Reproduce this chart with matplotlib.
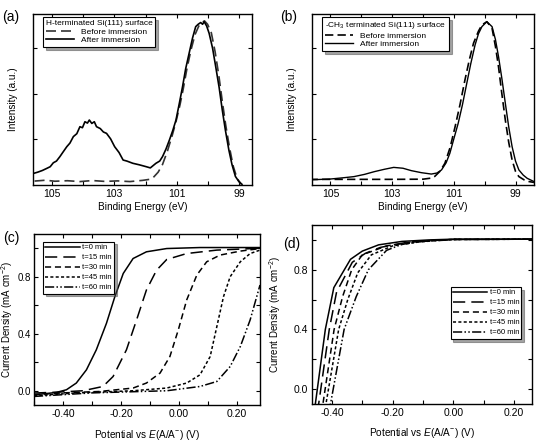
import matplotlib
matplotlib.use("Agg")
import matplotlib.pyplot as plt
from matplotlib.ticker import MultipleLocator, FixedLocator
import numpy as np

plt.rcParams['font.family'] = ['Liberation Sans', 'DejaVu Sans']
plt.rcParams['mathtext.fontset'] = 'custom'
plt.rcParams['mathtext.rm'] = 'Liberation Sans'
plt.rcParams['mathtext.it'] = 'Liberation Sans:italic'

# ---------------- Panel (a): H-terminated Si(111) XPS ----------------
a_after_E = [105.58, 105.45, 105.3, 105.15, 105.05, 104.95, 104.85, 104.74, 104.65, 104.52,
             104.42, 104.31, 104.2, 104.1, 104.02, 103.94, 103.86, 103.8, 103.72, 103.64,
             103.57, 103.45, 103.35, 103.25, 103.12, 102.99, 102.85, 102.72, 102.6, 102.41,
             102.2, 101.98, 101.85, 101.75, 101.67, 101.55, 101.46, 101.35, 101.24, 101.13,
             101.03, 100.92, 100.82, 100.72, 100.61, 100.5, 100.4, 100.32, 100.24, 100.18,
             100.13, 100.05, 99.97, 99.86, 99.76, 99.65, 99.55, 99.45, 99.34, 99.24,
             99.13, 99.02, 98.92]
a_after_I = [0.068, 0.075, 0.085, 0.098, 0.107, 0.13, 0.14, 0.166, 0.19, 0.224,
             0.245, 0.283, 0.30, 0.341, 0.335, 0.37, 0.362, 0.38, 0.36, 0.37,
             0.341, 0.33, 0.31, 0.302, 0.27, 0.224, 0.19, 0.146, 0.14, 0.127,
             0.118, 0.107, 0.10, 0.115, 0.127, 0.14, 0.166, 0.21, 0.263, 0.32,
             0.38, 0.48, 0.575, 0.68, 0.77, 0.86, 0.926, 0.94, 0.95, 0.94,
             0.955, 0.93, 0.887, 0.80, 0.692, 0.57, 0.439, 0.32, 0.205, 0.12,
             0.05, 0.02, 0.004]
a_before_E = [105.55, 105.2, 104.9, 104.5, 104.1, 103.7, 103.3, 102.9, 102.5, 102.1,
              101.8, 101.6, 101.46, 101.3, 101.15, 101.03, 100.9, 100.8, 100.68, 100.55,
              100.42, 100.3, 100.2, 100.12, 100.02, 99.9, 99.78, 99.66, 99.55, 99.44,
              99.32, 99.2, 99.08, 98.95]
a_before_I = [0.023, 0.028, 0.022, 0.025, 0.02, 0.026, 0.021, 0.024, 0.02, 0.027,
              0.035, 0.075, 0.12, 0.2, 0.29, 0.37, 0.47, 0.56, 0.68, 0.79,
              0.88, 0.93, 0.95, 0.96, 0.94, 0.89, 0.78, 0.64, 0.49, 0.35,
              0.22, 0.11, 0.04, 0.005]

# ---------------- Panel (b): CH3-terminated Si(111) XPS ----------------
b_after_E = [105.68, 105.0, 104.6, 104.24, 103.9, 103.58, 103.25, 102.95, 102.65, 102.38,
             102.05, 101.73, 101.55, 101.4, 101.25, 101.13, 101.0, 100.86, 100.72, 100.58,
             100.45, 100.31, 100.2, 100.09, 99.93, 99.76, 99.65, 99.55, 99.44, 99.33,
             99.22, 99.11, 99.0, 98.89, 98.75, 98.62, 98.4]
b_after_I = [0.03, 0.035, 0.042, 0.049, 0.062, 0.078, 0.092, 0.103, 0.098, 0.084,
             0.072, 0.064, 0.07, 0.088, 0.13, 0.185, 0.27, 0.36, 0.47, 0.595,
             0.71, 0.82, 0.885, 0.926, 0.955, 0.926, 0.85, 0.75, 0.62, 0.478,
             0.34, 0.224, 0.14, 0.088, 0.058, 0.039, 0.02]
b_before_E = [105.68, 105.0, 104.0, 103.0, 102.0, 101.75, 101.62, 101.45, 101.29, 101.12,
              100.96, 100.8, 100.64, 100.5, 100.36, 100.2, 100.09, 99.93, 99.76, 99.65,
              99.55, 99.44, 99.33, 99.22, 99.11, 99.0, 98.89, 98.72, 98.56, 98.4]
b_before_I = [0.033, 0.033, 0.033, 0.033, 0.034, 0.04, 0.05, 0.08, 0.127, 0.22,
              0.34, 0.47, 0.614, 0.73, 0.83, 0.9, 0.936, 0.955, 0.916, 0.81,
              0.69, 0.53, 0.38, 0.25, 0.146, 0.08, 0.049, 0.03, 0.02, 0.015]

# ---------------- Panel (c): J-E curves, H-terminated ----------------
c_labels = ["t=0 min", "t=15 min", "t=30 min", "t=45 min", "t=60 min"]
c_x = [
    [-0.50, -0.46, -0.423, -0.388, -0.354, -0.319, -0.285, -0.25, -0.221, -0.192, -0.158, -0.112, -0.042, 0.073, 0.28],
    [-0.50, -0.42, -0.331, -0.262, -0.227, -0.181, -0.146, -0.112, -0.077, -0.042, 0.027, 0.131, 0.28],
    [-0.50, -0.40, -0.273, -0.158, -0.112, -0.065, -0.031, -0.002, 0.027, 0.062, 0.096, 0.142, 0.212, 0.28],
    [-0.50, -0.35, -0.158, -0.042, 0.027, 0.073, 0.108, 0.131, 0.154, 0.177, 0.212, 0.246, 0.28],
    [-0.50, -0.30, -0.042, 0.073, 0.131, 0.177, 0.212, 0.246, 0.28],
]
c_y = [
    [-0.028, -0.02, -0.012, 0.007, 0.054, 0.147, 0.287, 0.473, 0.66, 0.823, 0.928, 0.975, 0.998, 1.005, 1.005],
    [-0.016, -0.01, 0.0, 0.03, 0.10, 0.287, 0.497, 0.707, 0.846, 0.921, 0.963, 0.987, 1.0],
    [-0.028, -0.015, -0.005, 0.019, 0.054, 0.124, 0.24, 0.427, 0.637, 0.812, 0.905, 0.952, 0.98, 0.998],
    [-0.035, -0.015, 0.0, 0.019, 0.054, 0.112, 0.24, 0.45, 0.66, 0.80, 0.905, 0.963, 0.987],
    [-0.04, -0.015, 0.0, 0.03, 0.065, 0.17, 0.31, 0.497, 0.742],
]

# ---------------- Panel (d): J-E curves, CH3-terminated ----------------
d_labels = ["t=0 min", "t=15 min", "t=30 min", "t=45 min", "t=60 min"]
d_x = [
    [-0.47, -0.455, -0.422, -0.394, -0.339, -0.30, -0.246, -0.169, -0.08, 0.0, 0.26],
    [-0.46, -0.444, -0.409, -0.385, -0.333, -0.29, -0.24, -0.15, -0.06, 0.0, 0.26],
    [-0.445, -0.43, -0.393, -0.365, -0.335, -0.30, -0.22, -0.14, -0.05, 0.0, 0.26],
    [-0.435, -0.42, -0.378, -0.348, -0.315, -0.27, -0.20, -0.12, -0.04, 0.0, 0.26],
    [-0.42, -0.405, -0.36, -0.32, -0.28, -0.22, -0.17, -0.10, -0.03, 0.0, 0.26],
]
d_y = [
    [-0.15, -0.10, 0.40, 0.68, 0.87, 0.925, 0.967, 0.99, 1.0, 1.005, 1.005],
    [-0.15, -0.10, 0.40, 0.65, 0.85, 0.91, 0.95, 0.985, 0.998, 1.003, 1.005],
    [-0.15, -0.10, 0.40, 0.62, 0.80, 0.90, 0.96, 0.985, 0.998, 1.003, 1.005],
    [-0.15, -0.10, 0.40, 0.60, 0.78, 0.90, 0.96, 0.985, 0.998, 1.003, 1.005],
    [-0.15, -0.10, 0.40, 0.62, 0.80, 0.93, 0.97, 0.99, 0.998, 1.003, 1.005],
]

styles = [
    dict(linestyle='-'),
    dict(linestyle=(0, (8, 4))),
    dict(linestyle=(0, (4, 2.5))),
    dict(linestyle=(0, (2, 1.5))),
    dict(linestyle=(0, (6, 1.5, 1, 1.5, 1, 1.5))),
]

W, H = 539, 442
fig = plt.figure(figsize=(W / 100, H / 100), dpi=100)

def add_ax(l, r, t, b):
    return fig.add_axes([l / W, (H - b) / H, (r - l) / W, (b - t) / H])

axa = add_ax(33, 252, 14, 185)
axb = add_ax(312, 534, 14, 185)
axc = add_ax(34, 260, 234, 405)
axd = add_ax(312, 532, 225, 404)

fs_tick = 7.5
fs_lab = 7.2

def style_ax(ax):
    ax.tick_params(direction='in', top=True, right=True, labelsize=fs_tick, length=3, width=0.8, pad=3)
    ax.tick_params(which='minor', direction='in', top=True, right=True, length=3, width=0.8)
    for s in ax.spines.values():
        s.set_linewidth(1.0)

# (a)
axa.plot(a_before_E, a_before_I, color='#333333', lw=1.2, linestyle=(0, (6, 3)), label='Before immersion')
axa.plot(a_after_E, a_after_I, color='black', lw=1.2, label='After immersion')
# (b)
axb.plot(b_before_E, b_before_I, color='black', lw=1.2, linestyle=(0, (5, 2.5)), label='Before immersion')
axb.plot(b_after_E, b_after_I, color='black', lw=1.0, label='After immersion')

for ax, ttl in [(axa, 'H-terminated Si(111) surface'), (axb, '-CH$_3$ terminated Si(111) surface')]:
    ax.set_xlim(105.6, 98.6 if ax is axa else 98.4)
    ax.set_ylim(0, 1.0)
    ax.xaxis.set_major_locator(FixedLocator([105, 103, 101, 99]))
    ax.xaxis.set_minor_locator(MultipleLocator(1))
    ax.set_yticks([0.27, 0.53, 0.8])
    ax.set_yticklabels([])
    style_ax(ax)
    ax.set_xlabel('Binding Energy (eV)', fontsize=fs_lab, labelpad=2)
    ax.set_ylabel('Intensity (a.u.)', fontsize=fs_lab, labelpad=8)
    leg = ax.legend(title=ttl, loc='upper left', bbox_to_anchor=(0.045, 0.98), fontsize=6,
                    title_fontsize=6, frameon=True, fancybox=False, shadow=True,
                    edgecolor='black', handlelength=3.4, borderpad=0.35, labelspacing=0.05,
                    handletextpad=0.8, borderaxespad=0)
    leg.get_frame().set_linewidth(0.8)
    leg._legend_box.align = 'left'

# (c), (d)
for ax, xs, ys, labs in [(axc, c_x, c_y, c_labels), (axd, d_x, d_y, d_labels)]:
    for x, y, lab, st in zip(xs, ys, labs, styles):
        ax.plot(x, y, color='black', lw=1.1, label=lab, **st)
    ax.set_ylim(-0.1, 1.1)
    ax.xaxis.set_major_locator(FixedLocator([-0.4, -0.2, 0.0, 0.2]))
    ax.xaxis.set_minor_locator(MultipleLocator(0.1))
    ax.yaxis.set_major_locator(FixedLocator([0.0, 0.4, 0.8]))
    ax.yaxis.set_minor_locator(MultipleLocator(0.2))
    ax.set_xticklabels(['-0.40', '-0.20', '0.00', '0.20'])
    ax.set_yticklabels(['0.0', '0.4', '0.8'])
    style_ax(ax)
    ax.set_xlabel('Potential vs $E$(A/A$^{-}$) (V)', fontsize=fs_lab, labelpad=6)
    ax.set_ylabel('Current Density (mA cm$^{-2}$)', fontsize=7)

axc.tick_params(axis='y', labelsize=7, pad=2)

# place the y labels of (c) and (d) so they stay inside the figure
axc.yaxis.set_label_coords((15 - 34) / 226, 0.5)
axd.yaxis.set_label_coords((283 - 312) / 220, 0.5)

axc.set_xlim(-0.50, 0.28)
axd.set_xlim(-0.466, 0.26)

legc = axc.legend(loc='upper left', bbox_to_anchor=(0.04, 0.955), fontsize=5.5, frameon=True,
                  fancybox=False, shadow=True, edgecolor='black', handlelength=4.5,
                  borderpad=0.3, labelspacing=0.35, handletextpad=0.3, borderaxespad=0)
legc.get_frame().set_linewidth(0.8)
legd = axd.legend(loc='upper left', bbox_to_anchor=(0.63, 0.655), fontsize=5.5, frameon=True,
                  fancybox=False, shadow=True, edgecolor='black', handlelength=4.5,
                  borderpad=0.3, labelspacing=0.35, handletextpad=0.3, borderaxespad=0)
legd.get_frame().set_linewidth(0.8)

# Panel letters
for txt, x, y in [('(a)', 2, 17), ('(b)', 280, 17), ('(c)', 3, 238), ('(d)', 283, 244)]:
    fig.text(x / W, (H - y) / H, txt, fontsize=10, ha='left', va='center')

fig.savefig('out.png', dpi=100)
